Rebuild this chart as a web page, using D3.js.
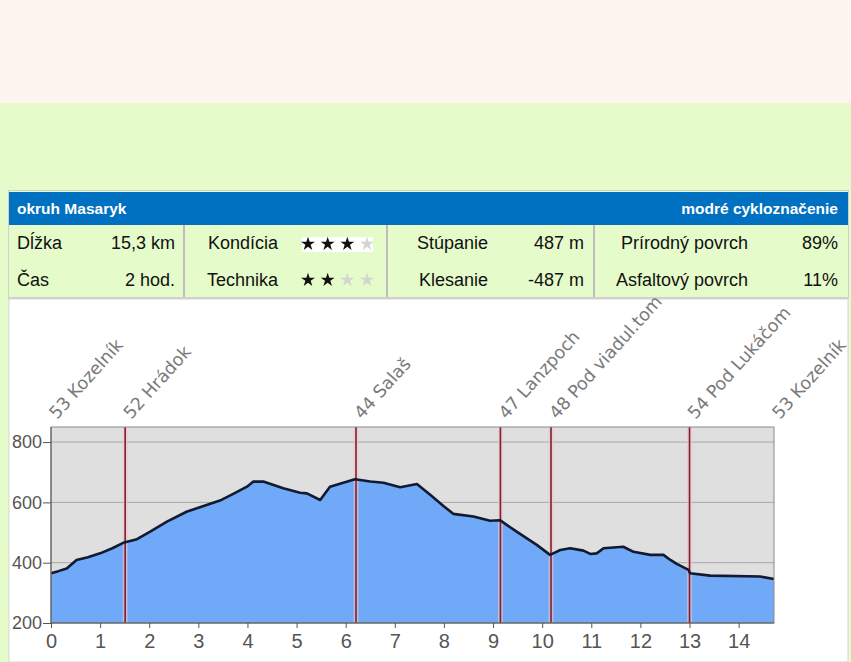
<!DOCTYPE html>
<html lang="sk">
<head>
    <meta charset="UTF-8">
    <title>okruh Masaryk</title>
    <script src="https://d3js.org/d3.v7.min.js"></script>
    <style>
        body {
            margin: 0;
            background: #e5fbca;
        }

        svg {
            display: block;
        }

        .info text {
            font-family: "Liberation Sans", Arial, sans-serif;
            font-size: 18px;
            fill: #111;
        }

        .head text {
            font-family: "Liberation Sans", Arial, sans-serif;
            font-size: 15.5px;
            font-weight: bold;
            fill: #fff;
        }

        .axis text {
            font-family: "Liberation Sans", Arial, sans-serif;
            fill: #555;
        }

        .axis path,
        .axis line {
            stroke: #555;
        }

        .wp-label {
            font-family: "DejaVu Sans", Verdana, sans-serif;
            font-size: 17.5px;
            fill: #7a7a7a;
        }
    </style>
</head>
<body>
    <div id="chart"></div>

    <script>
        // elevation profile (km, m)
        const km = [0, 0.15, 0.32, 0.52, 0.75, 1.0, 1.25, 1.47, 1.75, 2.02, 2.36, 2.76, 3.03, 3.44, 3.71, 3.99,
            4.12, 4.32, 4.73, 5.07, 5.21, 5.48, 5.68, 5.95, 6.19, 6.5, 6.77, 7.11, 7.45, 7.72, 7.99, 8.19,
            8.6, 8.94, 9.14, 9.48, 9.89, 10.16, 10.37, 10.57, 10.84, 10.98, 11.11, 11.25, 11.65, 11.86,
            12.2, 12.47, 12.61, 12.74, 12.98, 13.01, 13.42, 14.44, 14.72];
        const elevation = [365, 372, 381, 409, 418, 431, 448, 466, 478, 503, 536, 569, 584, 606, 628, 652,
            669, 669, 647, 632, 630, 608, 652, 665, 677, 669, 665, 650, 661, 625, 588, 562,
            553, 539, 541, 503, 459, 426, 442, 448, 440, 429, 431, 448, 453, 436,
            426, 426, 409, 396, 376, 365, 357, 354, 346];

        // waypoints
        const wpNames = ["53 Kozelník", "52 Hrádok", "44 Salaš", "47 Lanzpoch", "48 Pod viadul.tom", "54 Pod Lukáčom", "53 Kozelník"];
        const wpKm = [0, 1.51, 6.21, 9.15, 10.18, 13.0, 14.72];

        const yTicks = [200, 400, 600, 800];
        const xTicks = d3.range(0, 15);

        // route summary table
        const title = "okruh Masaryk";
        const marking = "modré cykloznačenie";
        const row1 = ["Dĺžka", "15,3 km", "Kondícia", 3, "Stúpanie", "487 m", "Prírodný povrch", "89%"];
        const row2 = ["Čas", "2 hod.", "Technika", 2, "Klesanie", "-487 m", "Asfaltový povrch", "11%"];

        const W = 851, H = 662;
        const svg = d3.select("#chart").append("svg")
            .attr("width", W)
            .attr("height", H);

        // page background bands
        svg.append("rect").attr("width", W).attr("height", 103).attr("fill", "#fdf5f0");
        svg.append("rect").attr("y", 103).attr("width", W).attr("height", H - 103).attr("fill", "#e5fbca");

        // ---- table ----
        const tbl = svg.append("g");
        tbl.append("rect")
            .attr("x", 8.5).attr("y", 190.5)
            .attr("width", 840).attr("height", 108)
            .attr("fill", "#e5fbca")
            .attr("stroke", "#cfcfcf");

        const head = tbl.append("g").attr("class", "head");
        head.append("rect")
            .attr("x", 9).attr("y", 192)
            .attr("width", 839).attr("height", 33)
            .attr("fill", "#0070c0");
        head.append("text").attr("x", 17).attr("y", 214).text(title);
        head.append("text").attr("x", 838).attr("y", 214).attr("text-anchor", "end").text(marking);

        [184, 387, 594].forEach(x => {
            tbl.append("line")
                .attr("x1", x).attr("x2", x)
                .attr("y1", 225).attr("y2", 298)
                .attr("stroke", "#bdbdbd")
                .attr("stroke-width", 2);
        });
        tbl.append("line")
            .attr("x1", 9).attr("x2", 848)
            .attr("y1", 298).attr("y2", 298)
            .attr("stroke", "#cfcfcf").attr("stroke-width", 2);

        const info = tbl.append("g").attr("class", "info");
        const cols = [
            {x: 17, anchor: "start"}, {x: 175, anchor: "end"},
            {x: 278, anchor: "end"}, null,
            {x: 488, anchor: "end"}, {x: 584, anchor: "end"},
            {x: 748, anchor: "end"}, {x: 838, anchor: "end"}
        ];
        const starX = d3.scaleLinear().domain([0, 3]).range([308, 367]);
        const star = d3.symbol().type(d3.symbolStar).size(60);

        [[row1, 249, 243], [row2, 286, 279]].forEach(([row, base, mid], ri) => {
            row.forEach((v, i) => {
                if (cols[i]) {
                    info.append("text")
                        .attr("x", cols[i].x).attr("y", base)
                        .attr("text-anchor", cols[i].anchor)
                        .text(v);
                }
            });
            if (ri === 0) {
                info.append("rect")
                    .attr("x", 302).attr("y", 237)
                    .attr("width", 71).attr("height", 15)
                    .attr("fill", "#fff");
            }
            info.selectAll(null)
                .data(d3.range(4))
                .enter()
                .append("path")
                .attr("d", star)
                .attr("transform", d => `translate(${starX(d)},${mid + 1})`)
                .attr("fill", d => d < row[3] ? "#111" : "#d4d4d4");
        });

        // ---- chart panel ----
        svg.append("rect")
            .attr("x", 9).attr("y", 299)
            .attr("width", 839).attr("height", H - 299)
            .attr("fill", "#fff")
            .attr("stroke", "#d6d6d6");

        const plot = {left: 51, right: 774, top: 427, bottom: 623};
        const x = d3.scaleLinear().domain([0, 14.72]).range([plot.left, plot.right]);
        const y = d3.scaleLinear().domain([200, 850]).range([plot.bottom, plot.top]);

        const g = svg.append("g");

        g.append("rect")
            .attr("x", plot.left).attr("y", plot.top)
            .attr("width", plot.right - plot.left)
            .attr("height", plot.bottom - plot.top)
            .attr("fill", "#dfdfdf");

        // horizontal grid
        g.selectAll(".grid")
            .data(yTicks.slice(1))
            .enter()
            .append("line")
            .attr("x1", plot.left).attr("x2", plot.right)
            .attr("y1", d => y(d)).attr("y2", d => y(d))
            .attr("stroke", "#a9a9a9");

        const pts = km.map((k, i) => [k, elevation[i]]);

        g.append("path")
            .datum(pts)
            .attr("fill", "#6fa9f7")
            .attr("d", d3.area()
                .x(d => x(d[0]))
                .y0(y(200))
                .y1(d => y(d[1])));

        // waypoint markers
        const wps = wpKm.map((k, i) => ({km: k, name: wpNames[i]}));
        const inner = wps.slice(1, -1);
        g.selectAll(".wp-halo")
            .data(inner)
            .enter()
            .append("line")
            .attr("x1", d => x(d.km)).attr("x2", d => x(d.km))
            .attr("y1", plot.top).attr("y2", plot.bottom)
            .attr("stroke", "#f2c4c4")
            .attr("stroke-width", 5)
            .attr("opacity", 0.6);
        g.selectAll(".wp-line")
            .data(inner)
            .enter()
            .append("line")
            .attr("x1", d => x(d.km)).attr("x2", d => x(d.km))
            .attr("y1", plot.top).attr("y2", plot.bottom)
            .attr("stroke", "#7d1f33")
            .attr("stroke-width", 1.6);

        g.append("path")
            .datum(pts)
            .attr("fill", "none")
            .attr("stroke", "#121a30")
            .attr("stroke-width", 2.6)
            .attr("stroke-linejoin", "round")
            .attr("d", d3.line()
                .x(d => x(d[0]))
                .y(d => y(d[1])));

        // plot frame
        g.append("rect")
            .attr("x", plot.left).attr("y", plot.top)
            .attr("width", plot.right - plot.left)
            .attr("height", plot.bottom - plot.top)
            .attr("fill", "none")
            .attr("stroke", "#8a8a8a");

        g.selectAll(".wp-label")
            .data(wps)
            .enter()
            .append("text")
            .attr("class", "wp-label")
            .attr("transform", d => `translate(${x(d.km) + 6},${plot.top - 7}) rotate(-48)`)
            .text(d => d.name);

        // axes
        const yAxis = g.append("g")
            .attr("class", "axis")
            .attr("transform", `translate(${plot.left},0)`)
            .call(d3.axisLeft(y).tickValues(yTicks).tickSize(8).tickPadding(1).tickSizeOuter(0));
        yAxis.selectAll("text").style("font-size", "18px");
        yAxis.select(".domain").attr("d", `M0,${plot.top}V${plot.bottom}`);

        const xAxis = g.append("g")
            .attr("class", "axis")
            .attr("transform", `translate(0,${plot.bottom})`)
            .call(d3.axisBottom(x).tickValues(xTicks).tickSize(5).tickPadding(6).tickSizeOuter(0));
        xAxis.selectAll("text").style("font-size", "20px");
        xAxis.select(".domain").attr("d", `M${plot.left},0H${plot.right}`);
    </script>
</body>
</html>
